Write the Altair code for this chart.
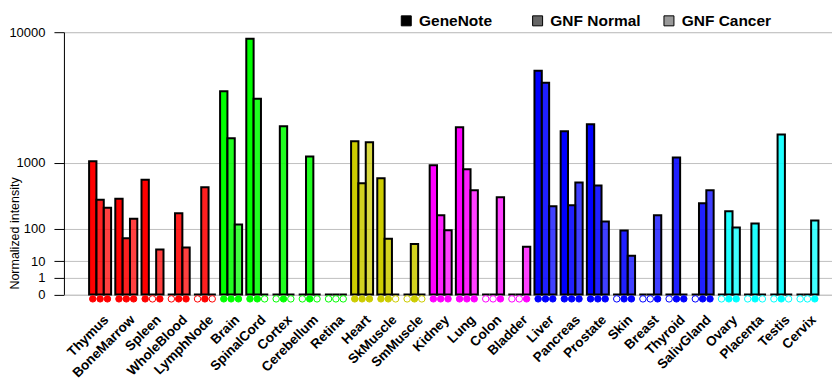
import altair as alt
import pandas as pd

tissues = ["Thymus", "BoneMarrow", "Spleen", "WholeBlood", "LymphNode",
           "Brain", "SpinalCord", "Cortex", "Cerebellum", "Retina",
           "Heart", "SkMuscle", "SmMuscle",
           "Kidney", "Lung", "Colon", "Bladder",
           "Liver", "Pancreas", "Prostate", "Skin", "Breast", "Thyroid", "SalivGland",
           "Ovary", "Placenta", "Testis", "Cervix"]
tissue_group = (["red"] * 5 + ["green"] * 5 + ["olive"] * 3 + ["magenta"] * 4
                + ["blue"] * 7 + ["cyan"] * 4)
series = ["GeneNote", "GNF Normal", "GNF Cancer"]

genenote = [1045, 346, 633, 0, 0, 4265, 9200, 0, 0, 0, 1666, 663, 0, 943, 2228, 0, 0,
            5890, 2054, 2366, 0, 0, 0, 0, 0, 0, 0, 0]
gnf_normal = [335, 59, 0, 201, 507, 1777, 3775, 2272, 1172, 0, 573, 57, 41, 185, 850, 0, 0,
              4900, 275, 534, 90, 0, 1144, 296, 218, 128, 1919, 0]
gnf_cancer = [249, 158, 28, 32, 0, 122, 0, 0, 0, 0, 1629, 0, 0, 92, 461, 366, 34,
              265, 585, 140, 17, 185, 0, 461, 105, 0, 0, 147]

genenote_call = ["P", "P", "P", "A", "A", "P", "P", "A", "A", "A", "P", "P", "A", "P", "P", "A", "A",
                 "P", "P", "P", "A", "A", "A", "A", "A", "A", "A", "A"]
normal_call = ["P", "P", "A", "P", "P", "P", "P", "P", "P", "A", "P", "P", "P", "P", "P", "A", "A",
               "P", "P", "P", "P", "A", "P", "P", "P", "P", "P", "A"]
cancer_call = ["P", "P", "P", "P", "A", "P", "A", "A", "A", "A", "P", "A", "A", "P", "P", "P", "P",
               "P", "P", "P", "P", "P", "P", "P", "P", "A", "A", "P"]

y_ticks = [0, 1, 10, 100, 1000, 10000]

group_domain = ["red", "green", "olive", "magenta", "blue", "cyan"]
group_range = ["#ff0000", "#00ff00", "#cccc00", "#ff00ff", "#0000ff", "#00ffff"]

rows = []
for i, t in enumerate(tissues):
    for s, vals, calls in zip(series, [genenote, gnf_normal, gnf_cancer],
                              [genenote_call, normal_call, cancer_call]):
        rows.append(dict(tissue=t, group=tissue_group[i], series=s,
                         value=vals[i], call=calls[i]))
df = pd.DataFrame(rows)

W = 769
H = 262.5
FONT = "Liberation Sans"

x = alt.X("tissue:N", sort=tissues,
          scale=alt.Scale(paddingInner=0.16, paddingOuter=0.739, align=0.65),
          axis=alt.Axis(title=None, labelAngle=315, labelFont=FONT, labelFontSize=13.5,
                        labelFontWeight="bold", labelColor="black", ticks=False,
                        tickSize=0, domain=False, labelPadding=18, labelOffset=1.5,
                        labelAlign="right", labelBaseline="top"))
xo = alt.XOffset("series:N", sort=series,
                 scale=alt.Scale(domain=series, paddingInner=0, paddingOuter=0))
y = alt.Y("value:Q",
          scale=alt.Scale(type="pow", exponent=0.3, domain=[0, 10000], nice=False, zero=True),
          axis=alt.Axis(values=y_ticks, format="d", title="Normalized intensity",
                        titleFont=FONT, titleFontSize=12.5, titleFontWeight="normal",
                        titleColor="black", titleAngle=270, titleX=-49, titleY=201,
                        titleAlign="center", titleBaseline="middle",
                        labelFont=FONT, labelFontSize=13, labelColor="black",
                        labelPadding=9, tickSize=10, tickColor="black",
                        domainColor="black", grid=True, gridColor="#c0c0c0",
                        gridWidth=1, labelOverlap=False))

fill_scale = alt.Scale(domain=group_domain, range=group_range)

bars = alt.Chart(df).mark_bar().encode(
    x=x, xOffset=xo, y=y,
    fill=alt.Fill("group:N", scale=fill_scale, legend=None),
    fillOpacity=alt.FillOpacity("series:N",
                                scale=alt.Scale(domain=series, range=[1, 0.75, 0.5]),
                                legend=None),
    stroke=alt.value("#000000"),
    strokeWidth=alt.value(2),
    strokeOpacity=alt.value(1),
)

markers = alt.Chart(df).mark_point(shape="circle", size=42, strokeWidth=1,
                                   filled=True, opacity=1).encode(
    x=x, xOffset=xo, y=alt.value(H + 4.5),
    stroke=alt.Stroke("group:N", scale=alt.Scale(domain=group_domain, range=group_range),
                      legend=None),
    fill=alt.condition("datum.call == 'P'",
                       alt.Fill("group:N", scale=fill_scale, legend=None),
                       alt.value("white")),
)

legend_layer = alt.Chart(df).transform_filter("datum.value < 0").mark_point(
    shape="square", filled=True, opacity=1).encode(
    x=x, y=y,
    color=alt.Color("series:N",
                    scale=alt.Scale(domain=series, range=["#000000", "#666666", "#999999"]),
                    legend=alt.Legend(title=None, orient="none", legendX=335, legendY=-19.5,
                                      direction="horizontal", columns=3, gridAlign="all",
                                      columnPadding=20.5, symbolType="square", symbolSize=100,
                                      symbolStrokeColor="black", symbolStrokeWidth=1,
                                      symbolOpacity=1, labelFont=FONT, labelFontSize=15.5,
                                      labelFontWeight="bold", labelColor="black",
                                      labelOffset=5, padding=0)),
)

chart = alt.layer(bars, markers, legend_layer).properties(
    width=W, height=H,
    padding={"left": 0, "top": 4, "right": 0, "bottom": 0},
).configure_view(strokeWidth=0).configure(font=FONT)

chart.save("out.html", embed_options={"renderer": "svg", "actions": False})
